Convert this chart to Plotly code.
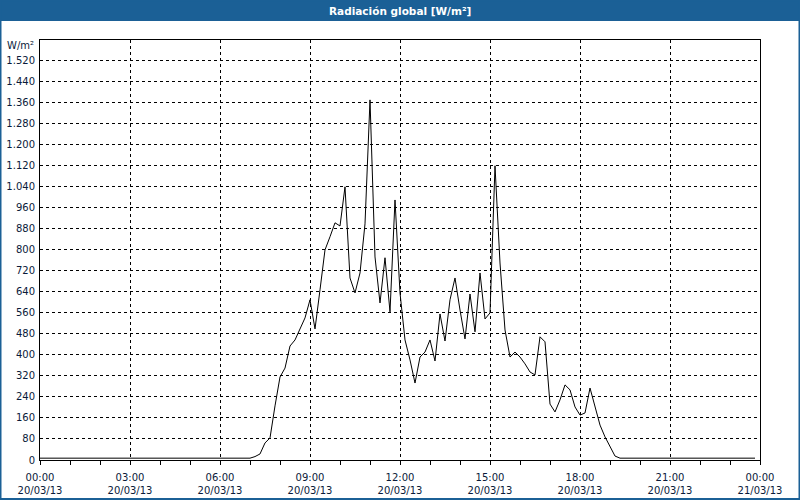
import plotly.graph_objects as go

# ---- data ----
times = [
    "00:00", "07:00", "07:10", "07:20", "07:30", "07:40", "07:50",
    "08:00", "08:10", "08:20", "08:30", "08:40", "08:50",
    "09:00", "09:10", "09:20", "09:30", "09:40", "09:50",
    "10:00", "10:10", "10:20", "10:30", "10:40", "10:50",
    "11:00", "11:10", "11:20", "11:30", "11:40", "11:50",
    "12:00", "12:10", "12:20", "12:30", "12:40", "12:50",
    "13:00", "13:10", "13:20", "13:30", "13:40", "13:50",
    "14:00", "14:10", "14:20", "14:30", "14:40", "14:50",
    "15:00", "15:10", "15:20", "15:30", "15:40", "15:50",
    "16:00", "16:10", "16:20", "16:30", "16:40", "16:50",
    "17:00", "17:10", "17:20", "17:30", "17:40", "17:50",
    "18:00", "18:10", "18:20", "18:30", "18:40", "18:50",
    "19:00", "19:10", "19:20", "23:50",
]
radiation = [
    7, 7, 13, 23, 65, 84, 206,
    316, 350, 434, 457, 499, 541,
    610, 499, 648, 800, 850, 903,
    891, 1040, 693, 636, 712, 899,
    1371, 773, 598, 770, 564, 990,
    636, 457, 381, 293, 392, 411,
    457, 377, 556, 453, 610, 693,
    571, 461, 632, 488, 712, 537,
    560, 1120, 750, 495, 392, 411,
    392, 366, 335, 324, 469, 450,
    213, 183, 229, 286, 267, 202,
    171, 179, 274, 198, 133, 88,
    50, 15, 7, 7,
]
day = "2013-03-20"
title_text = "Radiación global [W/m²]"
unit_text = "W/m²"

x_vals = [f"{day} {t}" for t in times]

# ---- layout helpers (pixels -> paper) ----
W, H = 800, 500
L, R, T, B = 40, 40, 40, 40
PW, PH = W - L - R, H - T - B


def px(x):
    return (x - L) / PW


def py(y):
    return (H - B - y) / PH


BLUE = "#1b6096"
TXT = "#0a1a3a"
FONT = "DejaVu Sans"

fig = go.Figure()
fig.add_trace(go.Scatter(
    x=x_vals, y=radiation, mode="lines",
    line=dict(color="black", width=1),
    hoverinfo="skip", showlegend=False,
))

fig.update_layout(
    width=W, height=H,
    margin=dict(l=L, r=R, t=T, b=B, autoexpand=False),
    paper_bgcolor="white", plot_bgcolor="white",
    separators=",.",
    font=dict(family=FONT, size=10, color=TXT),
    showlegend=False,
    xaxis=dict(
        type="date", automargin=False,
        range=[f"{day} 00:00", "2013-03-21 00:00"],
        dtick=3 * 3600000, tick0=f"{day} 00:00",
        tickformat="%H:%M<br>%d/%m/%y",
        ticks="outside", ticklen=4, tickcolor="black",
        ticklabelstandoff=4,
        showgrid=True, gridcolor="black", gridwidth=1, griddash="3px,3px",
        showline=True, linecolor="black", linewidth=1, mirror=True,
        zeroline=False,
        minor=dict(dtick=3600000, ticks="outside", ticklen=4,
                   tickcolor="black", showgrid=False),
        tickfont=dict(family=FONT, size=10, color=TXT),
    ),
    yaxis=dict(
        automargin=False,
        range=[0, 1599], dtick=80, tick0=0,
        tickformat=",d",
        ticks="outside", ticklen=2, tickcolor="rgba(0,0,0,0)",
        showgrid=True, gridcolor="black", gridwidth=1, griddash="3px,3px",
        showline=True, linecolor="black", linewidth=1, mirror=True,
        zeroline=False,
        tickfont=dict(family=FONT, size=10, color=TXT),
    ),
    shapes=[
        dict(type="rect", xref="paper", yref="paper",
             x0=px(0), x1=px(W), y0=py(21), y1=py(0),
             fillcolor=BLUE, line=dict(width=0), layer="above"),
        dict(type="rect", xref="paper", yref="paper",
             x0=px(0.5), x1=px(W - 0.5), y0=py(H - 1), y1=py(0.5),
             fillcolor="rgba(0,0,0,0)", line=dict(color=BLUE, width=2),
             layer="above"),
    ],
    annotations=[
        dict(text=f"<b>{title_text}</b>", xref="paper", yref="paper",
             x=0.5, y=py(10.5), xanchor="center", yanchor="middle",
             showarrow=False, font=dict(family=FONT, size=10.5, color="white")),
        dict(text=unit_text, xref="paper", yref="paper",
             x=px(36), y=py(46), xanchor="right", yanchor="middle",
             showarrow=False, font=dict(family=FONT, size=10, color=TXT)),
    ],
)

fig.write_html("out.html")
